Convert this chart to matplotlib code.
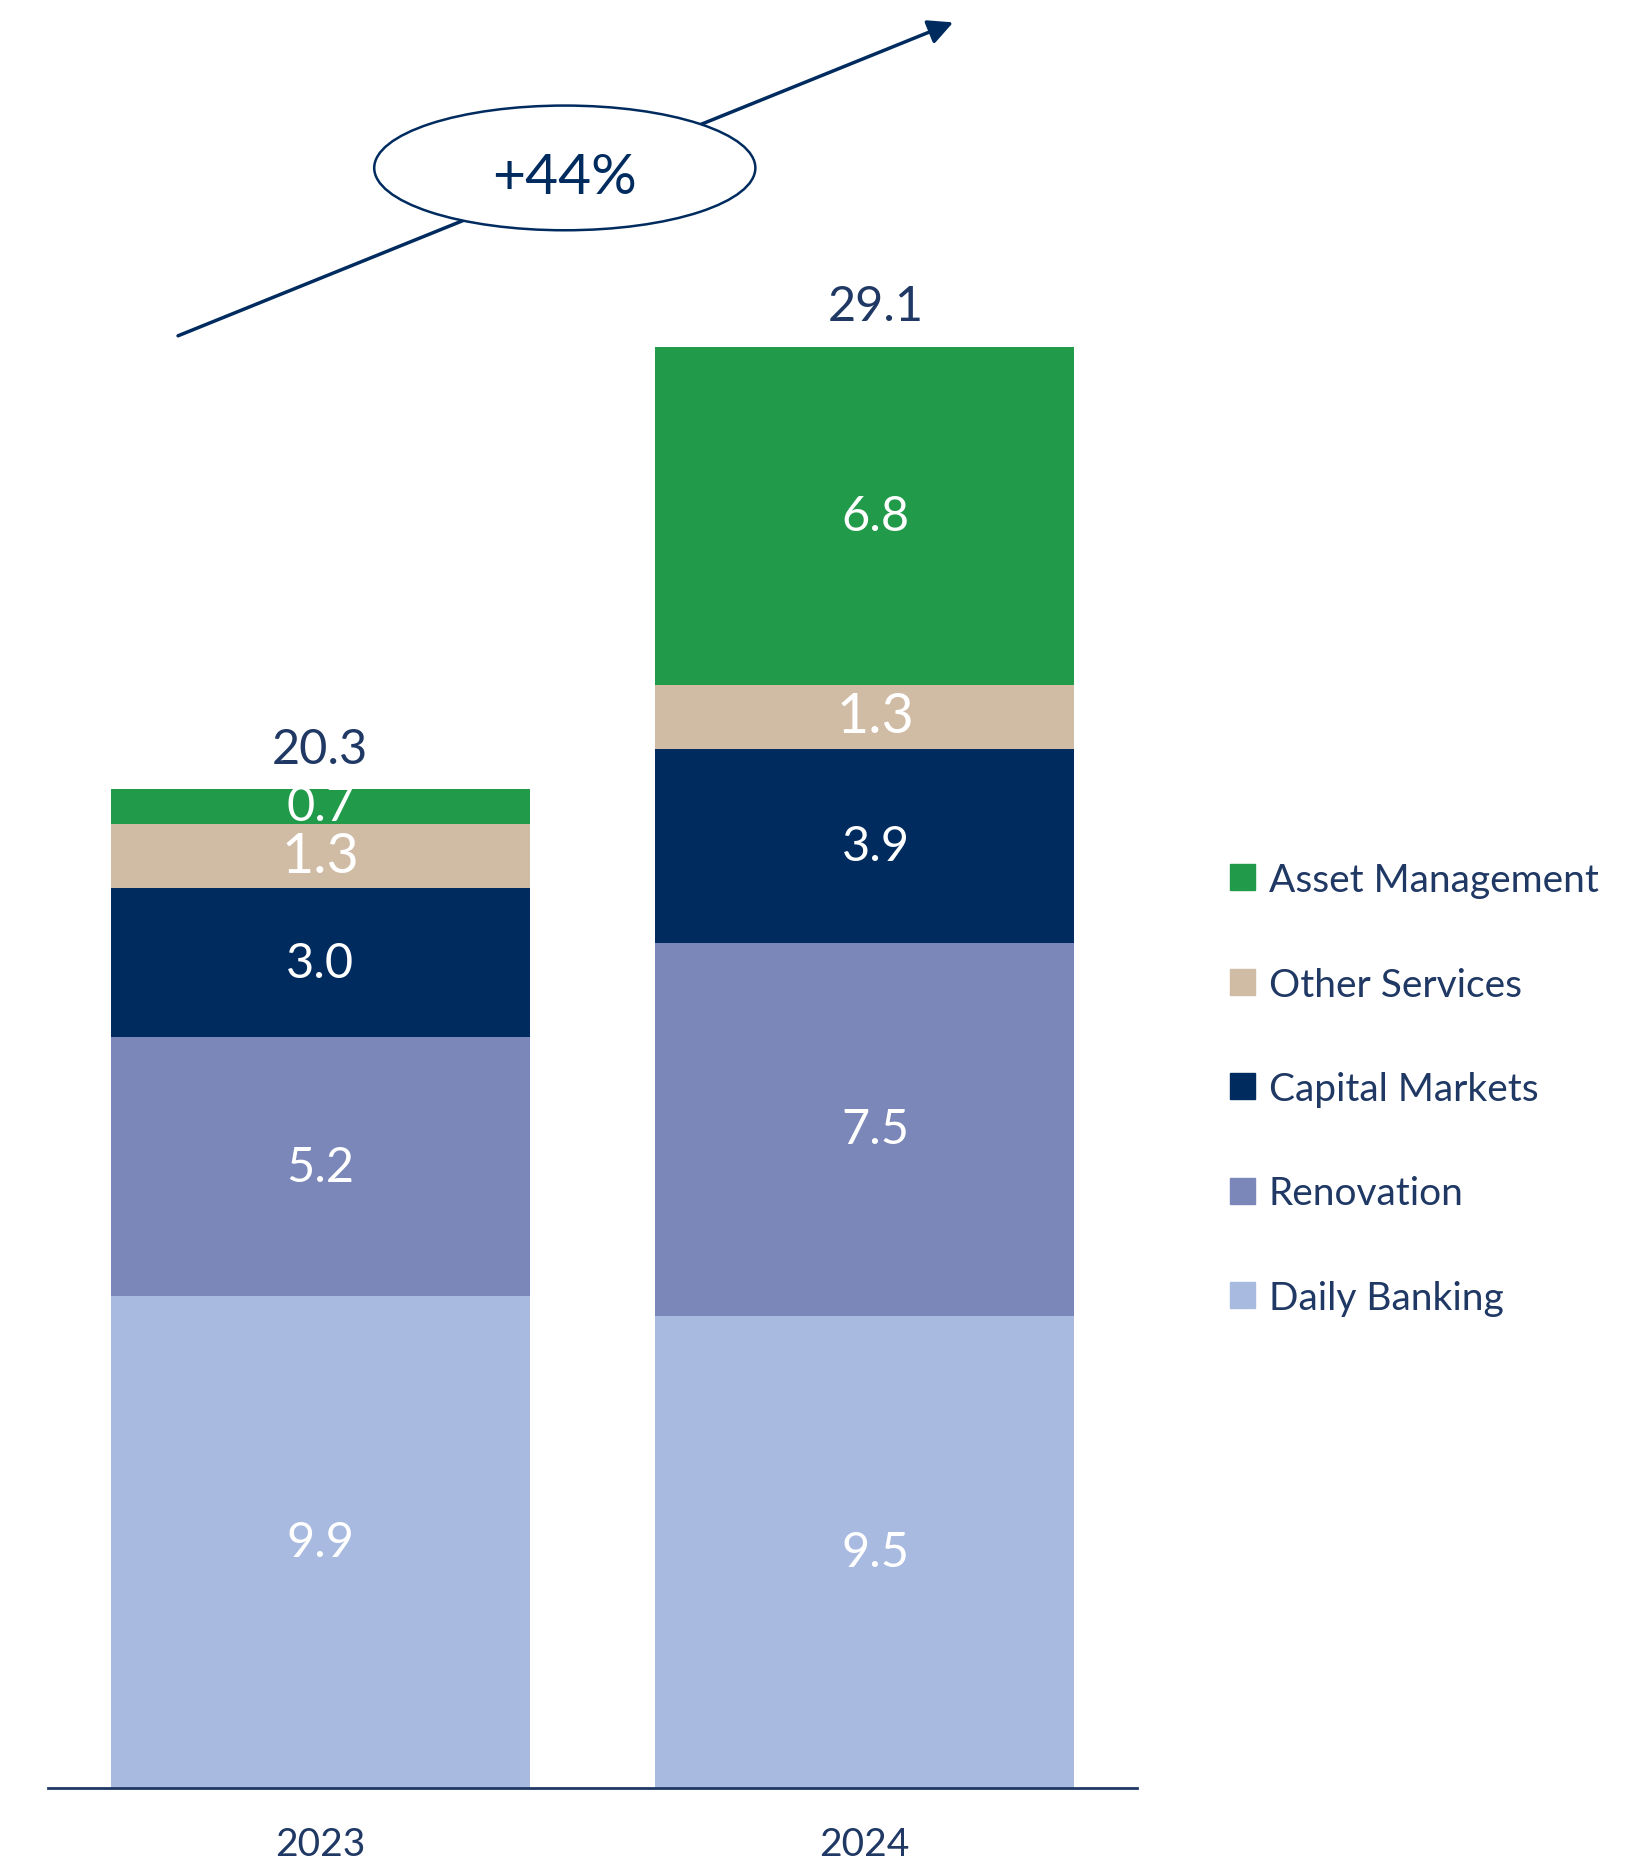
import matplotlib.pyplot as plt
from matplotlib.patches import Ellipse, Patch
import numpy as np

plt.rcParams['font.family'] = ['Lato', 'DejaVu Sans']

years = ['2023', '2024']
segments = ['Daily Banking', 'Renovation', 'Capital Markets', 'Other Services', 'Asset Management']
daily_banking = [9.9, 9.5]
renovation = [5.2, 7.5]
capital_markets = [3.0, 3.9]
other_services = [1.3, 1.3]
asset_management = [0.7, 6.8]
totals = [20.3, 29.1]
growth_label = '+44%'

colors = ['#A9BAE0', '#7A87B8', '#002B5F', '#D0BBA5', '#219A4A']
label_sizes = [35, 35, 35, 40, 35]
text_col = '#1F3864'

series = [daily_banking, renovation, capital_markets, other_services, asset_management]

fig = plt.figure(figsize=(16.46, 18.65), dpi=100)
ax = fig.add_axes([0.0292, 0.041, 0.6616, 0.959])

x = np.arange(len(years))
label_x = x + np.array([0.0, 0.02])  # the 2024 labels sit a touch right of centre
bottom = np.zeros(len(years))
for vals, col, fs in zip(series, colors, label_sizes):
    ax.bar(x, vals, width=0.77, bottom=bottom, color=col, linewidth=0)
    for lx, b, v in zip(label_x, bottom, vals):
        ax.text(lx, b + v / 2, f'{v:.1f}', ha='center', va='center',
                color='white', fontsize=fs)
    bottom += np.array(vals)

for lx, b, t in zip(label_x, bottom, totals):
    ax.annotate(f'{t:.1f}', (lx, b), xytext=(0, 29), textcoords='offset points',
                ha='center', va='center', color=text_col, fontsize=35)

ax.set_xlim(-0.5, 1.5)
ax.set_ylim(0, 36.0)
for s in ['top', 'right', 'left']:
    ax.spines[s].set_visible(False)
ax.spines['bottom'].set_color('#1F3864')
ax.spines['bottom'].set_linewidth(2)
ax.set_yticks([])
ax.set_xticks(x)
ax.set_xticklabels(years, fontsize=28, color=text_col)
ax.tick_params(axis='x', length=0, pad=28)

# growth arrow with ellipse
ax.annotate('', xy=(1.167, 35.55), xytext=(-0.266, 29.2),
            arrowprops=dict(arrowstyle='-|>,head_length=1.5,head_width=0.75',
                            color='#002B5F', lw=2.5), annotation_clip=False)
ax.add_patch(Ellipse((0.449, 32.6), 0.70, 2.51, facecolor='white',
                     edgecolor='#002B5F', lw=1.8, zorder=5, clip_on=False))
ax.text(0.449, 32.4, growth_label, ha='center', va='center', fontsize=41,
        color='#002B5F', zorder=6)

handles = [Patch(color=c) for c in colors[::-1]]
fig.legend(handles, segments[::-1], loc='upper left', bbox_to_anchor=(0.726, 0.556),
           frameon=False, fontsize=28, labelcolor=text_col,
           handlelength=0.65, handleheight=0.65, handletextpad=0.35, labelspacing=1.76)

fig.savefig('out.png', dpi=100)
